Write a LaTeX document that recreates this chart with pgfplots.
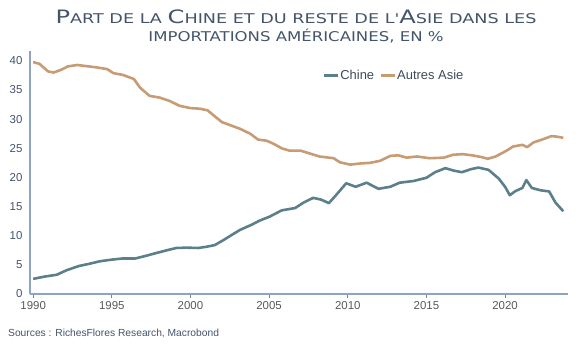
\documentclass[border=0pt]{standalone}
\usepackage{pgfplots}
\pgfplotsset{compat=1.18}
\usepackage{fontspec}
\setmainfont{Liberation Sans}
\newfontfamily\titlefont{DejaVu Sans}
\definecolor{chine}{HTML}{5B7F8B}
\definecolor{autres}{HTML}{C79B74}
\definecolor{axisc}{HTML}{8FA3C2}
\definecolor{titlec}{HTML}{44546A}
\definecolor{ylab}{HTML}{44546A}
\definecolor{xlab}{HTML}{595959}
\definecolor{legc}{HTML}{3E4A5A}
\newcommand\BC[1]{{\fontsize{18.5}{18}\selectfont #1}}
\begin{document}
\begin{tikzpicture}[x=1bp,y=1bp]
\useasboundingbox (0,0) rectangle (582,345);
\begin{axis}[
 at={(30bp,51bp)}, anchor=south west,
 scale only axis, width=538bp, height=243bp,
 xmin=1989.8, xmax=2024, ymin=0, ymax=41.7,
 axis x line*=bottom, axis y line*=left,
 axis line style={axisc, line width=1.6bp, -},
 xtick={1990,1995,...,2020}, ytick={0,5,...,40},
 tick align=outside,
 x tick style={color=gray, line width=0.8bp},
 y tick style={draw=none},
 major tick length=4bp,
 /pgf/number format/assume math mode=true,
 /pgf/number format/1000 sep={},
 xticklabel style={font=\fontsize{11.5}{12}\selectfont, text=xlab},
 yticklabel style={font=\fontsize{11.5}{12}\selectfont, text=ylab},
 legend style={at={(0.543,0.90)}, anchor=west, draw=none, fill=none,
   font=\fontsize{13}{13}\selectfont, text=legc, inner sep=0pt,
   /tikz/every even column/.append style={column sep=4bp},
   nodes={inner xsep=1bp}},
 legend columns=2,
 legend image code/.code={\draw[#1, line width=3bp] (0bp,0bp) -- (14bp,0bp);},
 clip=false,
]
\addplot[chine, line width=2.6bp, line join=round] coordinates {
(1990.0,2.6)(1990.75,3.0)(1991.5,3.3)(1992.1,4.05)(1992.9,4.8)(1993.6,5.2)(1994.2,5.6)(1995.0,5.9)(1995.7,6.1)(1996.5,6.1)(1997.1,6.5)(1997.85,7.05)(1998.5,7.5)(1999.1,7.9)(1999.75,7.95)(2000.5,7.9)(2001.0,8.1)(2001.55,8.4)(2002.1,9.25)(2002.6,10.1)(2003.15,11.0)(2003.9,11.9)(2004.4,12.6)(2005.05,13.3)(2005.8,14.35)(2006.65,14.75)(2007.2,15.7)(2007.8,16.5)(2008.3,16.2)(2008.8,15.6)(2009.2,16.8)(2009.9,19.0)(2010.5,18.4)(2011.2,19.1)(2011.95,18.05)(2012.7,18.4)(2013.3,19.1)(2014.2,19.4)(2015.0,19.95)(2015.55,20.9)(2016.2,21.6)(2016.7,21.2)(2017.25,20.9)(2017.8,21.4)(2018.3,21.7)(2018.95,21.3)(2019.6,19.8)(2020.0,18.4)(2020.3,16.95)(2020.65,17.65)(2021.1,18.2)(2021.35,19.55)(2021.7,18.2)(2022.25,17.8)(2022.8,17.6)(2023.2,15.7)(2023.7,14.2)
};
\addlegendentry{Chine}
\addplot[autres, line width=2.6bp, line join=round] coordinates {
(1990.0,39.8)(1990.4,39.5)(1990.95,38.2)(1991.3,38.0)(1991.8,38.5)(1992.2,39.05)(1992.8,39.3)(1993.4,39.1)(1994.0,38.9)(1994.7,38.6)(1995.1,37.9)(1995.7,37.6)(1996.4,36.9)(1996.8,35.4)(1997.4,34.0)(1998.05,33.7)(1998.7,33.1)(1999.3,32.3)(2000.0,31.9)(2000.6,31.8)(2001.1,31.5)(2001.45,30.7)(2002.0,29.5)(2002.5,29.0)(2003.15,28.35)(2003.8,27.5)(2004.3,26.5)(2004.85,26.3)(2005.3,25.75)(2005.8,25.0)(2006.3,24.6)(2007.0,24.6)(2007.6,24.1)(2008.2,23.6)(2009.1,23.3)(2009.5,22.6)(2010.15,22.2)(2010.8,22.4)(2011.4,22.5)(2012.05,22.85)(2012.7,23.7)(2013.2,23.8)(2013.75,23.4)(2014.4,23.6)(2015.2,23.3)(2016.1,23.4)(2016.7,23.9)(2017.3,24.0)(2017.9,23.8)(2018.5,23.5)(2018.9,23.2)(2019.4,23.6)(2020.1,24.6)(2020.5,25.3)(2021.1,25.6)(2021.4,25.2)(2021.8,26.0)(2022.35,26.5)(2022.95,27.1)(2023.3,27.0)(2023.7,26.8)
};
\addlegendentry{Autres Asie}
\end{axis}
\node[anchor=base, text=titlec, font=\titlefont\fontsize{13.5}{14}\selectfont, inner sep=0pt] at (296,322) {\scalebox{1.31}[1]{\BC{P}ART DE LA \BC{C}HINE ET DU RESTE DE L'\BC{A}SIE DANS LES}};
\node[anchor=base, text=titlec, font=\titlefont\fontsize{13.5}{14}\selectfont, inner sep=0pt] at (296,304) {\scalebox{1.23}[1]{IMPORTATIONS AMÉRICAINES, EN \%}};
\node[anchor=base west, text=ylab, font=\fontsize{10.3}{11}\selectfont, inner sep=0pt] at (8,9) {Sources : RichesFlores Research, Macrobond};
\end{tikzpicture}
\end{document}
